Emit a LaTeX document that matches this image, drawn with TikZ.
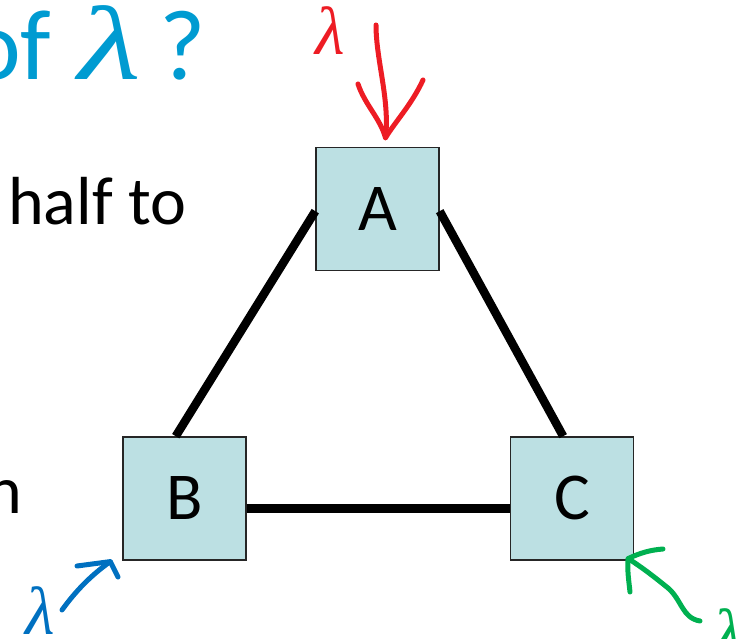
\documentclass[tikz,border=0pt]{standalone}
\usepackage{fontspec}
\usepackage{graphicx}
\setmainfont{Carlito}
\newfontfamily\lamfont{Liberation Serif}
\usepackage{tikz}
\usetikzlibrary{positioning,calc}
\definecolor{titleblue}{HTML}{009BD1}
\definecolor{boxfill}{HTML}{BCE0E3}
\definecolor{inkred}{HTML}{ED1C24}
\definecolor{inkblue}{HTML}{0070C0}
\definecolor{inkgreen}{HTML}{00B050}
\newcommand{\lam}{{\lamfont\itshape λ}}
\tikzset{
    net box/.style={
        draw=black!85,
        line width=1.4pt,
        fill=boxfill,
        minimum width=123pt,
        minimum height=123pt,
        inner sep=0pt,
        font=\fontsize{67}{70}\selectfont
    },
    net link/.style={line width=8.5pt, draw=black},
    slide text/.style={font=\fontsize{68}{70}\selectfont, inner sep=0pt},
    slide title/.style={font=\fontsize{100}{110}\selectfont, text=titleblue, inner sep=0pt},
    ink/.style={line width=5pt, line cap=round, line join=round},
    ink label/.style={font=\fontsize{68}{70}\selectfont, inner sep=0pt}
}

\begin{document}
\begin{tikzpicture}[x=1pt, y=-1pt]
\useasboundingbox (0,0) rectangle (740,639);
\clip (0,0) rectangle (740,639);

% slide text behind the figure
\node[slide title, anchor=base west] (ttl) at (-32,80)
    {of \hspace{4pt}\scalebox{1.45}[1.05]{\lam}\hspace{-4pt} ?};
\node[slide text, anchor=base west] (txt1) at (8,225) {half to};
\node[slide text, anchor=base east] (txt2) at (22,513) {n};

% the three nodes
\node[net box] (A) at (377.5,209) {A};
\node[net box, below=165pt of A, xshift=-193pt] (B) {B};
\node[net box, right=263pt of B] (C) {C};
\draw[net link] (A.182) -- (B.98);
\draw[net link] (A.-2) -- (C.98);
\draw[net link] (B.-9) -- (C.189);

% hand-drawn arrivals
\coordinate (redtail) at (376,25);
\coordinate (redtip) at ($(A.north)+(8,-9)$);
\node[ink label, text=inkred] (redlam) at (330,31) {\lam};
\draw[ink, inkred] (redtail) .. controls (376,60) and (390,100) .. (redtip);
\draw[ink, inkred] (358,84) .. controls (365,105) and (380,118) .. (redtip)
    .. controls (395,122) and (412,104) .. (423,80);

\coordinate (bluetail) at (62,610);
\coordinate (bluetip) at ($(B.south west)+(-12,1)$);
\node[ink label, text=inkblue] (bluelam) at (40,611) {\lam};
\draw[ink, inkblue] (bluetail) .. controls (75,592) and (90,576) .. (bluetip);
\draw[ink, inkblue] (77,566) -- (bluetip) -- (118,577);

\coordinate (greentail) at (700,621);
\coordinate (greentip) at ($(C.south east)+(-6,-2)$);
\node[ink label, text=inkgreen] (greenlam) at (728,633) {\lam};
\draw[ink, inkgreen] (greentail) .. controls (682,618) and (682,600) .. (668,588)
    .. controls (652,575) and (640,566) .. (greentip);
\draw[ink, inkgreen] (663,549) .. controls (650,550) and (640,553) .. (greentip)
    .. controls (627,570) and (629,582) .. (630,592);
\end{tikzpicture}
\end{document}
